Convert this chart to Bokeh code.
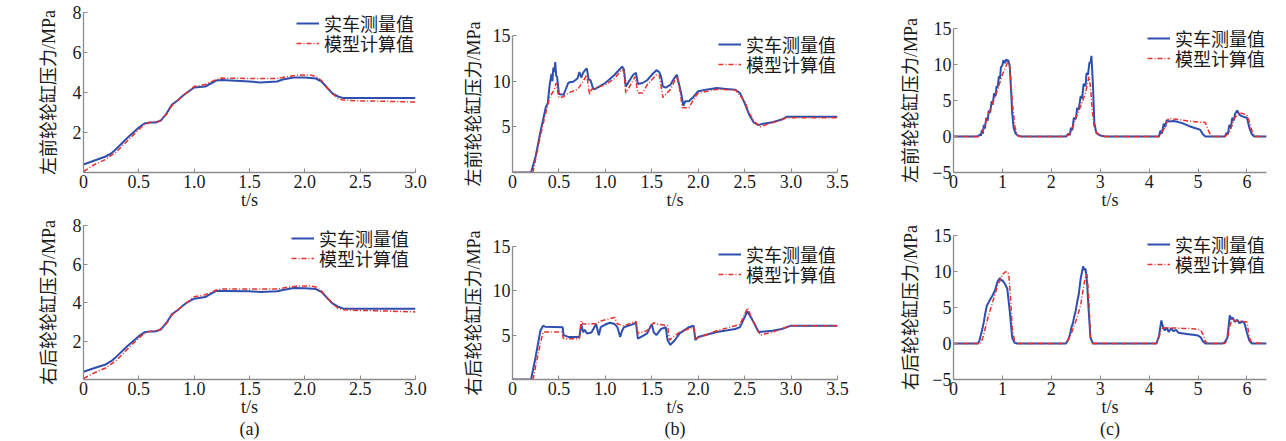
from bokeh.plotting import figure
from bokeh.layouts import column, row
from bokeh.models import Legend, LegendItem, FixedTicker, LinearAxis
from bokeh.embed import file_html
from bokeh.resources import INLINE

# ---------------- data ----------------
legend_labels = ["实车测量值", "模型计算值"]
panel_tags = ["(a)", "(b)", "(c)"]
ylabel_front = "左前轮轮缸压力/MPa"
ylabel_rear = "右后轮轮缸压力/MPa"
xlabel = "t/s"

# (a) top
a1_t_meas = [0, 0.1, 0.2, 0.25, 0.3, 0.4, 0.5, 0.55, 0.6, 0.65, 0.7, 0.75, 0.8, 0.85, 0.9, 0.95, 1.0, 1.1, 1.15, 1.2, 1.25, 1.5, 1.6, 1.75, 1.8, 1.9, 2.0, 2.1, 2.15, 2.2, 2.25, 2.3, 2.35, 3.0]
a1_p_meas = [0.4, 0.6, 0.8, 0.95, 1.2, 1.75, 2.25, 2.45, 2.5, 2.5, 2.6, 2.95, 3.4, 3.6, 3.85, 4.05, 4.25, 4.3, 4.45, 4.6, 4.62, 4.55, 4.5, 4.55, 4.65, 4.75, 4.75, 4.7, 4.55, 4.25, 3.95, 3.8, 3.72, 3.72]
a1_t_model = [0, 0.1, 0.2, 0.25, 0.3, 0.4, 0.5, 0.55, 0.6, 0.68, 0.75, 0.8, 0.9, 1.0, 1.1, 1.2, 1.25, 1.5, 1.75, 1.85, 1.95, 2.05, 2.1, 2.15, 2.2, 2.25, 2.3, 2.35, 2.5, 2.6, 3.0]
a1_p_model = [0.05, 0.4, 0.65, 0.85, 1.05, 1.6, 2.15, 2.4, 2.5, 2.55, 2.9, 3.35, 3.85, 4.3, 4.4, 4.65, 4.72, 4.7, 4.7, 4.8, 4.88, 4.88, 4.8, 4.6, 4.25, 3.95, 3.7, 3.62, 3.58, 3.58, 3.52]

# (a) bottom
a2_t_meas = [0, 0.1, 0.2, 0.25, 0.3, 0.4, 0.5, 0.55, 0.6, 0.65, 0.7, 0.75, 0.8, 0.85, 0.9, 0.95, 1.0, 1.1, 1.15, 1.2, 1.25, 1.5, 1.6, 1.75, 1.8, 1.9, 2.0, 2.1, 2.15, 2.2, 2.25, 2.3, 2.35, 3.0]
a2_p_meas = [0.4, 0.6, 0.78, 0.95, 1.2, 1.75, 2.25, 2.45, 2.5, 2.5, 2.6, 2.95, 3.4, 3.6, 3.85, 4.05, 4.2, 4.28, 4.45, 4.6, 4.6, 4.58, 4.55, 4.58, 4.65, 4.75, 4.74, 4.7, 4.55, 4.25, 3.95, 3.78, 3.68, 3.68]
a2_t_model = [0, 0.1, 0.2, 0.25, 0.3, 0.4, 0.5, 0.55, 0.6, 0.68, 0.75, 0.8, 0.9, 1.0, 1.1, 1.2, 1.25, 1.5, 1.75, 1.85, 1.95, 2.05, 2.1, 2.15, 2.2, 2.25, 2.3, 2.35, 2.5, 2.6, 3.0]
a2_p_model = [0.05, 0.35, 0.6, 0.8, 1.0, 1.6, 2.15, 2.4, 2.5, 2.55, 2.9, 3.35, 3.85, 4.3, 4.4, 4.65, 4.7, 4.7, 4.7, 4.8, 4.86, 4.86, 4.8, 4.6, 4.25, 3.95, 3.7, 3.62, 3.58, 3.58, 3.51]

# (b) top
b1_t_meas = [0, 0.2, 0.25, 0.3, 0.33, 0.36, 0.38, 0.4, 0.42, 0.43, 0.44, 0.45, 0.46, 0.47, 0.48, 0.5, 0.55, 0.6, 0.62, 0.65, 0.7, 0.72, 0.74, 0.76, 0.78, 0.8, 0.82, 0.84, 0.85, 0.87, 0.9, 1.0, 1.1, 1.18, 1.2, 1.22, 1.25, 1.3, 1.33, 1.35, 1.4, 1.45, 1.5, 1.55, 1.58, 1.6, 1.62, 1.65, 1.7, 1.74, 1.77, 1.8, 1.82, 1.84, 1.86, 1.9, 1.95, 2.0, 2.1, 2.2, 2.3, 2.4, 2.45, 2.5, 2.55, 2.6, 2.65, 2.7, 2.8, 2.9, 2.95, 3.0, 3.5]
b1_p_meas = [0, 0, 1.8, 4.4, 5.8, 7.2, 7.6, 9.6, 10.8, 10.0, 11.5, 11.0, 12.1, 10.6, 10.5, 8.6, 8.5, 9.8, 9.9, 9.9, 10.3, 11.0, 10.4, 10.9, 11.2, 11.4, 10.2, 10.1, 9.8, 9.1, 9.2, 9.8, 10.7, 11.6, 11.3, 9.4, 9.9, 10.7, 10.9, 9.7, 9.8, 10.1, 10.7, 11.2, 11.0, 10.5, 9.4, 9.3, 9.6, 10.3, 10.7, 9.4, 8.5, 7.3, 7.8, 7.8, 8.3, 8.9, 9.1, 9.25, 9.15, 9.05, 8.7, 7.6, 6.3, 5.45, 5.2, 5.35, 5.5, 5.8, 6.1, 6.1, 6.1]
b1_t_model = [0, 0.22, 0.3, 0.35, 0.4, 0.45, 0.47, 0.5, 0.55, 0.6, 0.7, 0.75, 0.8, 0.83, 0.85, 1.0, 1.1, 1.18, 1.2, 1.22, 1.3, 1.32, 1.35, 1.4, 1.45, 1.55, 1.58, 1.62, 1.7, 1.77, 1.8, 1.83, 1.9, 1.95, 2.0, 2.2, 2.4, 2.5, 2.55, 2.6, 2.67, 2.75, 2.85, 2.95, 3.5]
b1_p_model = [0, 0, 4.0, 6.2, 8.2, 9.1, 9.8, 8.2, 8.3, 8.7, 9.1, 9.8, 10.7, 8.5, 9.1, 9.6, 10.3, 11.3, 11.05, 8.7, 10.1, 10.5, 8.7, 8.7, 9.6, 10.7, 10.7, 8.2, 9.1, 10.5, 9.1, 7.1, 7.1, 8.0, 8.7, 9.1, 9.05, 7.8, 6.5, 5.6, 5.0, 5.3, 5.6, 6.0, 6.0]

# (b) bottom
b2_t_meas = [0, 0.2, 0.25, 0.3, 0.33, 0.35, 0.54, 0.55, 0.6, 0.72, 0.74, 0.76, 0.78, 0.8, 0.85, 0.9, 0.93, 0.95, 1.0, 1.05, 1.1, 1.13, 1.16, 1.18, 1.2, 1.3, 1.33, 1.35, 1.4, 1.45, 1.5, 1.52, 1.55, 1.6, 1.65, 1.67, 1.7, 1.75, 1.8, 1.9, 1.95, 1.97, 2.0, 2.2, 2.4, 2.45, 2.53, 2.6, 2.65, 2.8, 2.9, 3.0, 3.5]
b2_p_meas = [0, 0, 2.6, 5.5, 6.07, 5.96, 5.9, 5.0, 4.8, 4.8, 6.25, 5.35, 5.6, 5.2, 5.3, 6.25, 5.0, 5.9, 6.2, 6.4, 6.25, 5.9, 4.8, 5.5, 5.9, 6.25, 6.4, 4.6, 4.9, 5.2, 6.25, 5.35, 5.0, 5.7, 5.9, 4.45, 3.9, 4.45, 5.2, 5.9, 6.07, 4.45, 4.8, 5.35, 5.7, 5.9, 7.7, 6.4, 5.35, 5.5, 5.7, 6.07, 6.07]
b2_t_model = [0, 0.22, 0.3, 0.33, 0.53, 0.55, 0.72, 0.74, 0.76, 0.9, 0.95, 1.1, 1.13, 1.2, 1.33, 1.35, 1.45, 1.52, 1.55, 1.67, 1.69, 1.8, 1.95, 1.97, 2.2, 2.4, 2.45, 2.53, 2.6, 2.67, 2.8, 2.9, 3.0, 3.5]
b2_p_model = [0, 0, 4.1, 5.35, 5.35, 4.6, 4.6, 6.6, 6.25, 6.3, 6.6, 7.0, 6.25, 6.07, 6.55, 5.2, 5.5, 6.4, 6.25, 6.07, 4.45, 5.35, 5.9, 4.6, 5.5, 6.07, 6.2, 8.06, 6.4, 5.0, 5.35, 5.7, 6.07, 6.07]

# (c) top
c1_t_meas = [0, 0.5, 0.54, 0.56, 0.58, 0.6, 0.62, 0.64, 0.67, 0.7, 0.72, 0.75, 0.78, 0.8, 0.83, 0.86, 0.88, 0.9, 0.93, 0.95, 0.97, 1.0, 1.02, 1.05, 1.08, 1.1, 1.12, 1.15, 1.18, 1.2, 1.23, 1.27, 1.32, 1.4,
             2.3, 2.35, 2.38, 2.4, 2.43, 2.46, 2.5, 2.53, 2.56, 2.6, 2.63, 2.66, 2.7, 2.72, 2.75, 2.78, 2.8, 2.82, 2.85, 2.88, 2.92, 3.0, 3.1,
             4.2, 4.23, 4.26, 4.3, 4.33, 4.36, 4.4, 4.5, 4.6, 4.7, 4.8, 4.9, 5.0, 5.05, 5.1, 5.15,
             5.55, 5.58, 5.61, 5.64, 5.67, 5.7, 5.73, 5.76, 5.8, 5.85, 5.9, 6.0, 6.05, 6.1, 6.15, 6.4]
c1_p_meas = [0, 0, 0.3, 0.1, 0.9, 0.4, 1.6, 1.1, 2.6, 2.2, 3.6, 3.3, 4.9, 4.4, 6.0, 5.6, 7.0, 6.8, 8.4, 8.0, 9.6, 9.9, 10.6, 10.2, 10.7, 10.5, 10.6, 9.8, 6.0, 3.3, 1.2, 0.4, 0.1, 0,
             0, 0.4, 0.2, 1.2, 0.9, 2.6, 2.4, 4.0, 3.7, 5.6, 5.3, 7.3, 7.0, 8.8, 8.6, 10.3, 10.2, 11.2, 7.4, 1.9, 0.5, 0.15, 0,
             0, 0.8, 0.4, 1.8, 1.3, 2.3, 2.1, 2.15, 2.0, 1.8, 1.5, 1.25, 1.05, 0.87, 0.3, 0,
             0, 0.5, 0.3, 1.6, 1.2, 2.6, 2.2, 3.2, 3.6, 3.0, 2.8, 2.6, 1.2, 0.3, 0, 0]
c1_t_model = [0, 0.5, 0.6, 0.7, 0.8, 0.9, 1.0, 1.1, 1.13, 1.16, 1.2, 1.25, 1.3, 1.35, 2.3, 2.4, 2.5, 2.6, 2.7, 2.77, 2.8, 2.84, 2.88, 2.95, 3.05, 4.2, 4.3, 4.4, 4.6, 4.8, 5.0, 5.15, 5.2, 5.25, 5.3, 5.55, 5.65, 5.75, 5.85, 6.0, 6.05, 6.1, 6.15, 6.2, 6.4]
c1_p_model = [0, 0, 0.7, 2.8, 4.6, 6.5, 8.6, 10.2, 10.4, 9.0, 5.0, 1.5, 0.3, 0, 0, 0.5, 2.6, 4.2, 6.1, 8.3, 7.0, 3.5, 1.2, 0.3, 0, 0, 1.0, 2.5, 2.35, 2.15, 2.0, 1.95, 1.0, 0.3, 0, 0, 0.7, 2.6, 3.3, 3.0, 2.0, 0.8, 0.2, 0, 0]

# (c) bottom
c2_t_meas = [0, 0.5, 0.53, 0.56, 0.59, 0.62, 0.65, 0.68, 0.7, 0.75, 0.8, 0.85, 0.9, 0.93, 0.95, 0.98, 1.0, 1.03, 1.05, 1.1, 1.15, 1.2, 1.25, 1.3,
             2.3, 2.35, 2.38, 2.41, 2.44, 2.47, 2.5, 2.53, 2.56, 2.6, 2.63, 2.65, 2.68, 2.7, 2.73, 2.76, 2.8, 2.85,
             4.15, 4.2, 4.25, 4.28, 4.32, 4.36, 4.4, 4.45, 4.5, 4.55, 4.6, 4.7, 4.8, 4.9, 5.0, 5.05, 5.1, 5.15,
             5.5, 5.55, 5.6, 5.65, 5.68, 5.71, 5.75, 5.8, 5.85, 5.9, 5.95, 6.0, 6.05, 6.1, 6.4]
c2_p_meas = [0, 0, 0.4, 1.2, 2.0, 3.0, 4.2, 5.2, 5.5, 6.1, 6.7, 7.4, 8.6, 8.9, 9.1, 8.7, 8.8, 8.5, 8.3, 7.6, 4.5, 0.8, 0.1, 0,
             0, 0.6, 1.2, 2.2, 2.8, 3.8, 4.6, 5.8, 6.8, 9.0, 10.0, 10.7, 10.2, 10.4, 8.5, 5.0, 0.8, 0,
             0, 1.0, 3.2, 2.4, 1.8, 2.2, 1.6, 2.1, 1.7, 1.9, 1.5, 1.4, 1.3, 1.2, 1.1, 0.9, 0.3, 0,
             0, 0.2, 0.8, 3.9, 3.4, 3.6, 3.0, 3.3, 2.8, 3.1, 2.8, 1.5, 0.4, 0, 0]
c2_t_model = [0, 0.55, 0.6, 0.7, 0.8, 0.9, 1.0, 1.05, 1.1, 1.13, 1.17, 1.2, 1.25, 1.3, 2.3, 2.4, 2.5, 2.6, 2.65, 2.7, 2.73, 2.77, 2.8, 2.85, 4.15, 4.2, 4.25, 4.3, 4.5, 4.7, 4.9, 5.05, 5.1, 5.15, 5.2, 5.55, 5.6, 5.65, 5.7, 5.75, 5.8, 5.9, 6.0, 6.05, 6.1, 6.4]
c2_p_model = [0, 0, 0.8, 3.5, 5.75, 8.0, 9.6, 9.9, 10.0, 9.6, 6.0, 2.2, 0.3, 0, 0, 1.25, 3.05, 5.3, 7.5, 9.4, 9.6, 6.0, 0.8, 0, 0, 0.8, 2.0, 2.2, 2.15, 2.1, 2.05, 1.9, 1.3, 0.3, 0, 0, 0.6, 2.4, 3.5, 3.2, 3.1, 3.05, 3.0, 0.8, 0.1, 0]

# axes ticks
a_xticks = [0, 0.5, 1.0, 1.5, 2.0, 2.5, 3.0]
a_yticks = [0, 2, 4, 6, 8]
b_xticks = [0, 0.5, 1.0, 1.5, 2.0, 2.5, 3.0, 3.5]
b_yticks = [0, 5, 10, 15]
c_xticks = [0, 1, 2, 3, 4, 5, 6]
c_yticks = [-5, 0, 5, 10, 15]

# ---------------- styling ----------------
SERIF = "Liberation Serif"
MIX = "Liberation Serif, Noto Sans CJK SC"
BLUE = "#2f4fae"
RED = "#e8302c"
AXIS = "#8c8c8c"
TXT = "#1a1a1a"


def fmt(v, dec):
    if v == 0:
        return "0"
    if v < 0:
        return "\u2212" + (("%." + str(dec) + "f") % (-v))
    return ("%." + str(dec) + "f") % v


def make_legend(renderer, label, xy):
    leg = Legend(items=[LegendItem(label=label, renderers=[renderer])], location=xy)
    leg.label_text_font = MIX
    leg.label_text_font_size = "18px"
    leg.label_text_color = TXT
    leg.glyph_width = 23
    leg.glyph_height = 16
    leg.label_height = 16
    leg.label_standoff = 5
    leg.spacing = 0
    leg.padding = 0
    leg.margin = 0
    leg.border_line_color = None
    leg.background_fill_alpha = 0
    return leg


def panel(w, h, bl, br, bt, fh, xr, yr, xt, yt, xdec, ydec, ylabel, t_m, p_m, t_c, p_c,
          ystand, hide_y0, tag, leg_x, d1, d2):
    bb = h - bt - fh
    p = figure(width=w, height=h, x_range=xr, y_range=yr, output_backend="svg",
               toolbar_location=None, title=None, frame_align=False,
               min_border_left=bl, min_border_right=br,
               min_border_top=bt, min_border_bottom=bb)
    p.outline_line_color = None
    p.grid.visible = False
    p.background_fill_color = "white"
    p.border_fill_color = "white"
    for ax, ticks, dec in ((p.xaxis[0], xt, xdec), (p.yaxis[0], yt, ydec)):
        ax.ticker = FixedTicker(ticks=ticks)
        ax.major_label_overrides = {v: fmt(v, dec) for v in ticks}
        ax.axis_line_color = AXIS
        ax.axis_line_width = 1.3
        ax.major_tick_line_color = AXIS
        ax.major_tick_in = 4
        ax.major_tick_out = 0
        ax.minor_tick_line_color = None
        ax.major_label_text_font = SERIF
        ax.major_label_text_font_size = "18px"
        ax.major_label_text_color = TXT
        ax.major_label_standoff = 2
    if hide_y0:
        ov = dict(p.yaxis[0].major_label_overrides)
        ov[0] = ""
        p.yaxis[0].major_label_overrides = ov
    p.yaxis[0].axis_label = ylabel
    p.yaxis[0].axis_label_text_font = MIX
    p.yaxis[0].axis_label_text_font_size = "18px"
    p.yaxis[0].axis_label_text_font_style = "normal"
    p.yaxis[0].axis_label_text_color = TXT
    p.yaxis[0].axis_label_standoff = ystand
    p.xaxis[0].axis_label = xlabel
    p.xaxis[0].axis_label_text_font = SERIF
    p.xaxis[0].axis_label_text_font_size = "18px"
    p.xaxis[0].axis_label_text_font_style = "normal"
    p.xaxis[0].axis_label_text_color = TXT
    p.xaxis[0].axis_label_standoff = -1

    if tag:
        tax = LinearAxis(axis_label=tag, ticker=FixedTicker(ticks=[]))
        tax.axis_line_color = None
        tax.major_tick_line_color = None
        tax.minor_tick_line_color = None
        tax.major_label_text_font_size = "0px"
        tax.major_label_standoff = 0
        tax.axis_label_standoff = -1
        tax.axis_label_text_font = SERIF
        tax.axis_label_text_font_size = "18px"
        tax.axis_label_text_font_style = "normal"
        tax.axis_label_text_color = TXT
        p.add_layout(tax, "below")

    r1 = p.line(t_m, p_m, line_color=BLUE, line_width=2)
    r2 = p.line(t_c, p_c, line_color=RED, line_width=1.5, line_dash="5 2 1 2")

    p.add_layout(make_legend(r1, legend_labels[0], (leg_x, fh - d1)))
    p.add_layout(make_legend(r2, legend_labels[1], (leg_x, fh - d2)))
    return p


TOP_H = 212
BOT_H = 229

# frame rectangles chosen to match the reference (page has no margin)
a1 = panel(429, TOP_H, 83, 14, 12, 160, (0, 3.0), (0, 8), a_xticks, a_yticks, 1, 0,
           ylabel_front, a1_t_meas, a1_p_meas, a1_t_model, a1_p_model, 11, True, None, 213, 24, 44)
b1 = panel(429, TOP_H, 83, 21, 35, 139, (0, 3.5), (0, 15), b_xticks, b_yticks, 1, 0,
           ylabel_front, b1_t_meas, b1_p_meas, b1_t_model, b1_p_model, 6, True, None, 206, 24, 44)
c1 = panel(428, TOP_H, 95, 20, 28, 145, (0, 6.4), (-5, 15), c_xticks, c_yticks, 0, 0,
           ylabel_front, c1_t_meas, c1_p_meas, c1_t_model, c1_p_model, 8, False, None, 194, 24, 44)

a2 = panel(429, BOT_H, 83, 14, 13, 158, (0, 3.0), (0, 8), a_xticks, a_yticks, 1, 0,
           ylabel_rear, a2_t_meas, a2_p_meas, a2_t_model, a2_p_model, 11, True, panel_tags[0], 208, 30, 50)
b2 = panel(429, BOT_H, 83, 21, 34, 138, (0, 3.5), (0, 15), b_xticks, b_yticks, 1, 0,
           ylabel_rear, b2_t_meas, b2_p_meas, b2_t_model, b2_p_model, 6, True, panel_tags[1], 206, 26, 46)
c2 = panel(428, BOT_H, 95, 20, 23, 148, (0, 6.4), (-5, 15), c_xticks, c_yticks, 0, 0,
           ylabel_rear, c2_t_meas, c2_p_meas, c2_t_model, c2_p_model, 8, False, panel_tags[2], 194, 26, 46)

layout = column(row(a1, b1, c1, spacing=0), row(a2, b2, c2, spacing=0), spacing=0)

open("out.html", "w").write(file_html(layout, INLINE))
